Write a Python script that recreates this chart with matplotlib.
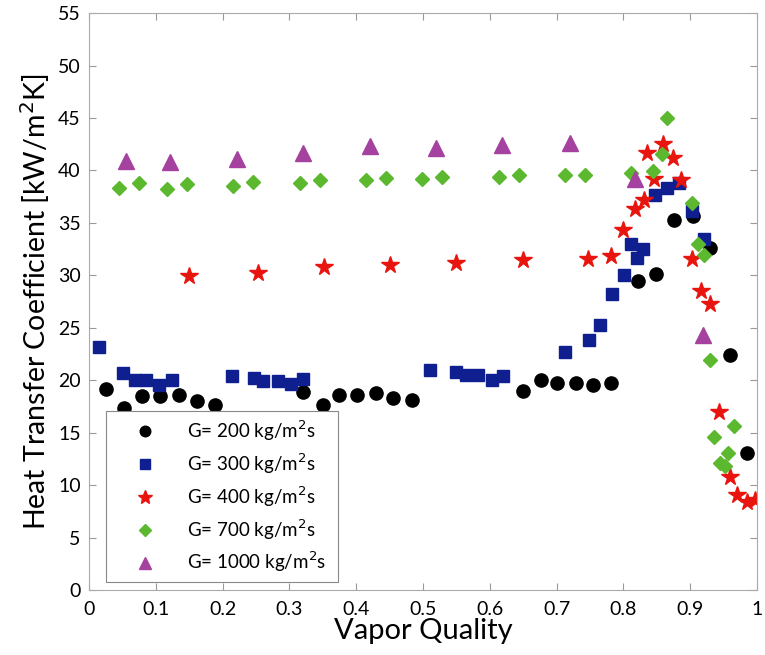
import matplotlib
matplotlib.use("Agg")
import matplotlib.pyplot as plt

plt.rcParams['font.family'] = ['Lato', 'DejaVu Sans']

# G = 200 kg/m2s
x200 = [0.026, 0.052, 0.080, 0.107, 0.135, 0.161, 0.188, 0.321, 0.350, 0.375,
        0.401, 0.430, 0.455, 0.483, 0.649, 0.676, 0.700, 0.729, 0.755, 0.782,
        0.822, 0.849, 0.876, 0.904, 0.930, 0.959, 0.985]
h200 = [19.2, 17.4, 18.5, 18.5, 18.6, 18.0, 17.6, 18.9, 17.6, 18.6,
        18.6, 18.8, 18.3, 18.1, 19.0, 20.0, 19.7, 19.7, 19.5, 19.7,
        29.5, 30.1, 35.3, 35.7, 32.6, 22.4, 13.1]

# G = 300 kg/m2s
x300 = [0.015, 0.051, 0.069, 0.086, 0.105, 0.124, 0.214, 0.247, 0.261, 0.283,
        0.302, 0.321, 0.511, 0.550, 0.565, 0.583, 0.603, 0.620, 0.712, 0.749,
        0.765, 0.783, 0.801, 0.811, 0.820, 0.830, 0.848, 0.866, 0.884, 0.902,
        0.920]
h300 = [23.2, 20.7, 20.0, 20.0, 19.5, 20.0, 20.4, 20.2, 19.9, 19.9,
        19.6, 20.1, 21.0, 20.8, 20.5, 20.5, 20.0, 20.4, 22.7, 23.8,
        25.3, 28.2, 30.0, 33.0, 31.7, 32.5, 37.7, 38.3, 38.8, 36.1,
        33.5]

# G = 400 kg/m2s
x400 = [0.150, 0.253, 0.352, 0.451, 0.550, 0.649, 0.747, 0.781, 0.799, 0.817,
        0.831, 0.835, 0.846, 0.860, 0.874, 0.886, 0.902, 0.916, 0.929, 0.943,
        0.959, 0.970, 0.985, 0.997]
h400 = [29.9, 30.2, 30.8, 31.0, 31.2, 31.5, 31.6, 31.8, 34.3, 36.3,
        37.2, 41.7, 39.2, 42.5, 41.2, 39.1, 31.6, 28.5, 27.3, 17.0,
        10.8, 9.1, 8.4, 8.6]

# G = 700 kg/m2s
x700 = [0.045, 0.075, 0.117, 0.147, 0.215, 0.245, 0.316, 0.346, 0.415, 0.445,
        0.499, 0.529, 0.614, 0.644, 0.712, 0.743, 0.811, 0.845, 0.858, 0.865,
        0.903, 0.912, 0.920, 0.929, 0.935, 0.945, 0.952, 0.957, 0.965]
h700 = [38.3, 38.8, 38.2, 38.7, 38.5, 38.9, 38.8, 39.1, 39.1, 39.3,
        39.2, 39.4, 39.4, 39.6, 39.6, 39.6, 39.8, 39.9, 41.6, 45.0,
        36.9, 33.0, 31.9, 21.9, 14.6, 12.1, 11.8, 13.1, 15.6]

# G = 1000 kg/m2s
x1000 = [0.055, 0.122, 0.221, 0.321, 0.420, 0.520, 0.619, 0.720, 0.817, 0.919]
h1000 = [40.9, 40.8, 41.1, 41.7, 42.3, 42.1, 42.4, 42.6, 39.2, 24.3]

fig = plt.figure(figsize=(7.65, 6.55), dpi=100)
ax = fig.add_axes([0.1163, 0.0992, 0.8732, 0.8808])

ax.plot(x200, h200, 'o', color='black', ms=9.5, label='G= 200 kg/m$^2$s')
ax.plot(x300, h300, 's', color='#0f1f8f', ms=9, label='G= 300 kg/m$^2$s')
ax.plot(x400, h400, '*', color='#e8150f', ms=13, label='G= 400 kg/m$^2$s')
ax.plot(x700, h700, 'D', color='#5cb82e', ms=7.5, label='G= 700 kg/m$^2$s')
ax.plot(x1000, h1000, '^', color='#a5419f', ms=11, label='G= 1000 kg/m$^2$s')

ax.set_xlim(0, 1)
ax.set_ylim(0, 55)
ax.set_xticks([0, 0.1, 0.2, 0.3, 0.4, 0.5, 0.6, 0.7, 0.8, 0.9, 1])
ax.set_xticklabels(['0', '0.1', '0.2', '0.3', '0.4', '0.5', '0.6', '0.7', '0.8', '0.9', '1'])
ax.set_yticks(range(0, 56, 5))
ax.tick_params(direction='in', top=True, right=True, labelsize=14,
               color='#999999', length=5)
ax.tick_params(axis='x', pad=8)
ax.tick_params(axis='y', pad=6)
for s in ax.spines.values():
    s.set_color('#aaaaaa')

ax.set_xlabel('Vapor Quality', fontsize=21, labelpad=0)
ax.set_ylabel('Heat Transfer Coefficient [kW/m$^2$K]', fontsize=20.5, labelpad=4)

leg = ax.legend(loc='lower left', bbox_to_anchor=(0.026, 0.014, 0.347, 0.286),
                mode='expand', fontsize=13.5, fancybox=False, framealpha=1,
                edgecolor='#888888', borderaxespad=0, handletextpad=0.6,
                handlelength=3.3, markerscale=0.8,
                labelspacing=0.45, numpoints=1)
leg.get_frame().set_linewidth(0.8)

fig.savefig('out.png', dpi=100)
